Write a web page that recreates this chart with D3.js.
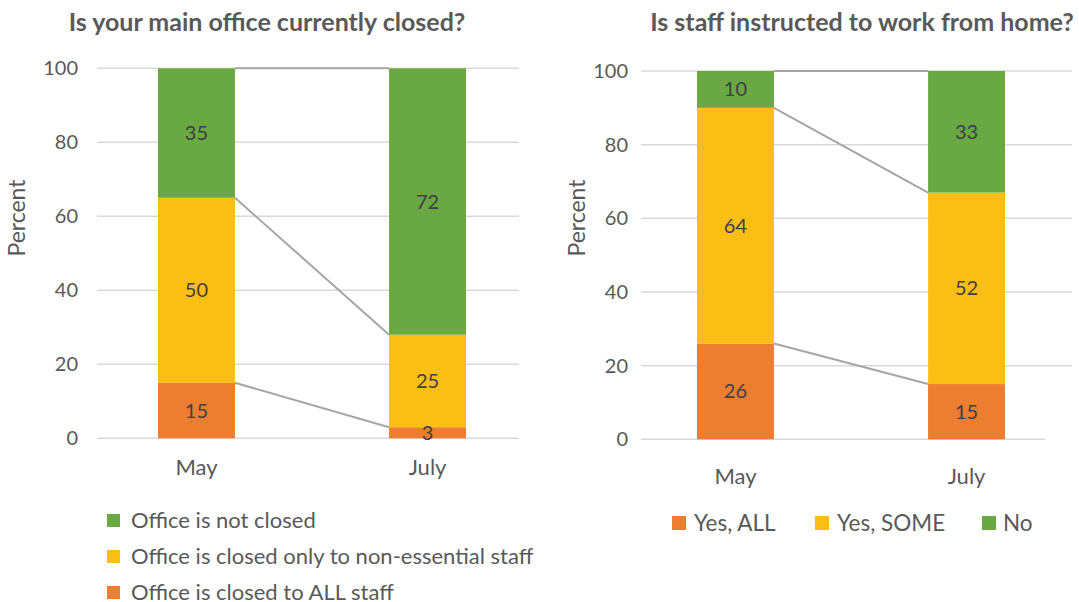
<!DOCTYPE html>
<html>
<head>
<meta charset="utf-8">
<script src="https://cdn.jsdelivr.net/npm/d3@7"></script>
<style>
  body { margin: 0; background: #fff; }
  text { font-family: Lato, "Open Sans", sans-serif; fill: #595959; }
</style>
</head>
<body>
<div class="svg-container"></div>
<script>
// data
const months = ['May', 'July'];
const yTicks = [0, 20, 40, 60, 80, 100];

// left chart: office closed
const officeKeys = ['all', 'some', 'open'];
const officeLabels = ['Office is closed to ALL staff', 'Office is closed only to non-essential staff', 'Office is not closed'];
const officeAll = [15, 3];
const officeSome = [50, 25];
const officeOpen = [35, 72];

// right chart: work from home
const homeKeys = ['all', 'some', 'open'];
const homeLabels = ['Yes, ALL', 'Yes, SOME', 'No'];
const homeAll = [26, 15];
const homeSome = [64, 52];
const homeNo = [10, 33];

const colors = { all: '#ED7D31', some: '#FBBE14', open: '#6AA843' };

const svg = d3.select('.svg-container')
    .append('svg')
    .attr('width', 1079)
    .attr('height', 602);

function drawPanel(cfg) {
    const rows = months.map((m, i) => ({ month: m, all: cfg.all[i], some: cfg.some[i], open: cfg.open[i] }));
    const series = d3.stack().keys(officeKeys)(rows);

    // band range spans from first bar's left edge to last bar's right edge
    const x = d3.scaleBand().domain(months).range([cfg.b0, cfg.b1]).paddingInner(0.667).paddingOuter(0);
    const y = d3.scaleLinear().domain([0, 100]).range([cfg.yBottom, cfg.yTop]);

    const g = svg.append('g');

    // title
    g.append('text')
        .attr('x', cfg.titleX).attr('y', 31)
        .attr('text-anchor', 'middle')
        .attr('font-size', 25).attr('font-weight', 'bold')
        .text(cfg.title);

    // gridlines
    g.selectAll('.grid')
        .data(yTicks)
        .join('line')
        .attr('x1', cfg.x0).attr('x2', d => d === 0 ? cfg.x0End : cfg.x1)
        .attr('y1', d => y(d)).attr('y2', d => y(d))
        .attr('stroke', '#D9D9D9').attr('stroke-width', 1.5);

    // y axis
    const yAxis = d3.axisLeft(y).tickValues(yTicks).tickSize(0).tickPadding(cfg.tickPad);
    g.append('g')
        .attr('transform', `translate(${cfg.x0}, 0)`)
        .call(yAxis)
        .call(a => a.select('.domain').remove())
        .call(a => a.selectAll('text').attr('font-size', 20).attr('fill', '#595959').attr('font-family', 'Lato, sans-serif'));

    g.append('text')
        .attr('transform', `translate(${cfg.titleYX}, ${cfg.titleYY}) rotate(-90)`)
        .attr('text-anchor', 'middle')
        .attr('dy', '0.35em')
        .attr('font-size', 23)
        .text('Percent');

    // connector lines between segment tops
    series.forEach(s => {
        g.append('line')
            .attr('x1', x(months[0]) + x.bandwidth()).attr('y1', y(s[0][1]))
            .attr('x2', x(months[1])).attr('y2', y(s[1][1]))
            .attr('stroke', '#A5A5A5').attr('stroke-width', 2);
    });

    // bars
    g.selectAll('.layer')
        .data(series)
        .join('g')
        .attr('class', 'layer')
        .attr('fill', d => colors[d.key])
        .selectAll('rect')
        .data(d => d)
        .join('rect')
        .attr('x', d => x(d.data.month))
        .attr('y', d => y(d[1]))
        .attr('width', x.bandwidth())
        .attr('height', d => y(d[0]) - y(d[1]));

    // value labels
    series.forEach(s => {
        g.selectAll(null)
            .data(s)
            .join('text')
            .attr('x', d => x(d.data.month) + x.bandwidth() / 2)
            .attr('y', d => (y(d[0]) + y(d[1])) / 2)
            .attr('dy', '0.35em')
            .attr('text-anchor', 'middle')
            .attr('font-size', 20)
            .style('fill', '#404040')
            .text(d => d[1] - d[0]);
    });

    // x labels
    g.selectAll('.xlab')
        .data(months)
        .join('text')
        .attr('x', d => x(d) + x.bandwidth() / 2)
        .attr('y', cfg.xLabelY)
        .attr('text-anchor', 'middle')
        .attr('font-size', 22)
        .text(d => d);

    return g;
}

const left = drawPanel({
    title: 'Is your main office currently closed?', titleX: 267, titleYX: 17, titleYY: 218,
    all: officeAll, some: officeSome, open: officeOpen,
    x0: 97, x1: 519, x0End: 519, b0: 158, b1: 466, tickPad: 19,
    yTop: 68.3, yBottom: 438.3, xLabelY: 475
});

const right = drawPanel({
    title: 'Is staff instructed to work from home?', titleX: 862, titleYX: 577, titleYY: 218,
    all: homeAll, some: homeSome, open: homeNo,
    x0: 641, x1: 1072, x0End: 1045, b0: 697, b1: 1005, tickPad: 13,
    yTop: 71, yBottom: 439.3, xLabelY: 484
});

// left legend (vertical, reversed order)
const legL = svg.append('g').attr('transform', 'translate(107, 0)');
const legLData = officeKeys.map((k, i) => ({ key: k, label: officeLabels[i] })).reverse();
legL.selectAll('rect')
    .data(legLData)
    .join('rect')
    .attr('x', 0).attr('y', (d, i) => 514 + i * 36)
    .attr('width', 13).attr('height', 13)
    .attr('fill', d => colors[d.key]);
legL.selectAll('text')
    .data(legLData)
    .join('text')
    .attr('x', 24).attr('y', (d, i) => 520.5 + i * 36)
    .attr('dy', '0.35em')
    .attr('font-size', 22)
    .text(d => d.label);

// right legend (horizontal)
const legRData = homeKeys.map((k, i) => ({ key: k, label: homeLabels[i] }));
const legRx = [672, 815, 982];
const legR = svg.append('g');
legR.selectAll('rect')
    .data(legRData)
    .join('rect')
    .attr('x', (d, i) => legRx[i]).attr('y', 516)
    .attr('width', 14).attr('height', 14)
    .attr('fill', d => colors[d.key]);
legR.selectAll('text')
    .data(legRData)
    .join('text')
    .attr('x', (d, i) => legRx[i] + (i === 2 ? 21 : 22)).attr('y', 523)
    .attr('dy', '0.35em')
    .attr('font-size', 22.5)
    .text(d => d.label);
</script>
</body>
</html>
